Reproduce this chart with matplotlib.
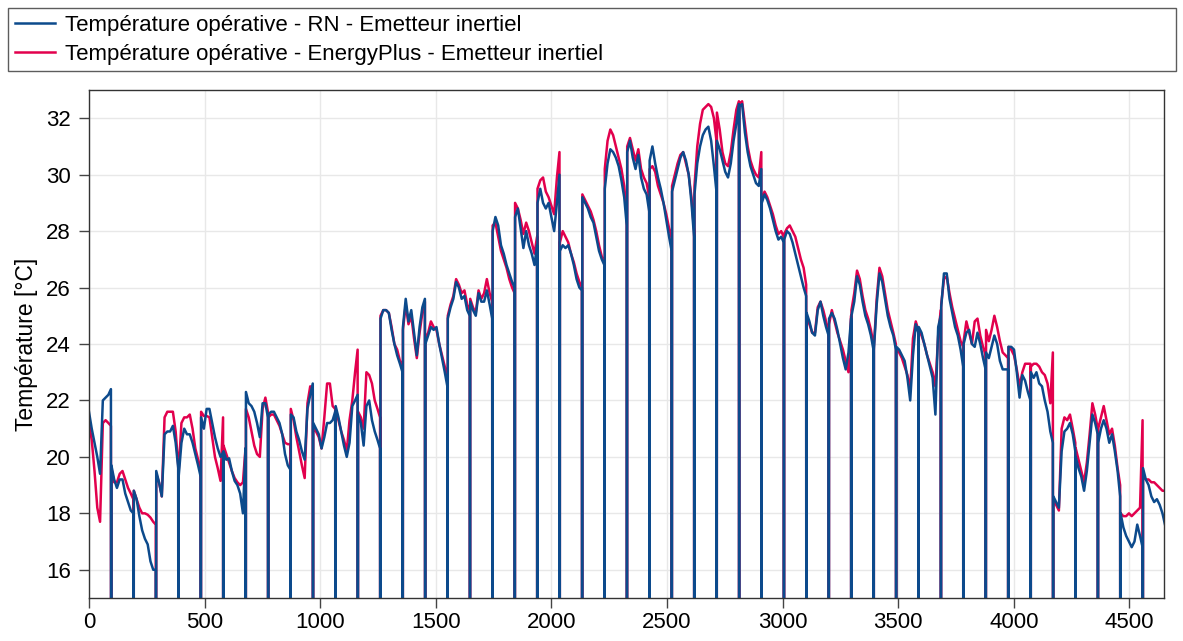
import numpy as np
import matplotlib.pyplot as plt
from matplotlib.lines import Line2D

# Operative temperature, one list per 97 h block (samples every 12 h, last at +95 h)
rn_segments = [
    [21.6, 21.0, 20.5, 20.0, 19.4, 22.0, 22.1, 22.2, 22.4],
    [19.7, 19.2, 18.9, 19.2, 19.2, 18.7, 18.4, 18.1, 18.0],
    [18.8, 18.5, 17.9, 17.4, 17.1, 16.9, 16.3, 16.0, 16.0],
    [19.5, 19.1, 18.6, 20.8, 20.9, 20.9, 21.1, 20.5, 19.6],
    [19.3, 20.5, 21.0, 20.8, 20.8, 20.5, 20.1, 19.7, 19.3],
    [21.4, 21.0, 21.7, 21.7, 21.2, 20.7, 20.3, 20.0, 20.15],
    [20.2, 19.9, 19.95, 19.5, 19.15, 19.0, 18.7, 18.0, 20.3],
    [22.3, 21.9, 21.8, 21.6, 21.2, 20.7, 21.9, 21.9, 21.4],
    [21.5, 21.6, 21.6, 21.4, 21.2, 20.8, 20.1, 19.7, 19.55],
    [21.5, 21.4, 20.9, 20.6, 20.2, 19.9, 21.7, 22.2, 22.6],
    [21.2, 21.0, 20.8, 20.3, 20.7, 21.2, 21.2, 21.3, 21.6],
    [21.8, 21.4, 20.9, 20.4, 20.0, 20.5, 21.8, 22.0, 22.2],
    [21.5, 21.2, 20.4, 21.8, 22.0, 21.3, 20.9, 20.6, 20.3],
    [24.9, 25.2, 25.2, 25.1, 24.5, 24.0, 23.6, 23.3, 23.0],
    [24.6, 25.6, 24.8, 25.2, 24.4, 23.6, 24.6, 25.3, 25.6],
    [24.0, 24.3, 24.6, 24.5, 24.6, 24.0, 23.5, 23.0, 22.5],
    [24.9, 25.3, 25.6, 26.2, 26.0, 25.6, 25.7, 25.2, 25.0],
    [25.5, 25.2, 25.0, 25.8, 25.5, 25.5, 25.9, 25.4, 24.9],
    [28.0, 28.5, 28.2, 27.5, 27.2, 26.8, 26.5, 26.2, 26.0],
    [28.5, 28.8, 28.1, 27.4, 28.0, 27.5, 27.2, 26.8, 27.5],
    [29.0, 29.5, 29.0, 28.8, 29.0, 28.5, 28.0, 29.0, 30.0],
    [27.3, 27.5, 27.4, 27.5, 27.2, 26.8, 26.3, 26.0, 25.9],
    [29.2, 29.0, 28.8, 28.5, 28.3, 27.8, 27.3, 27.0, 26.8],
    [29.5, 30.4, 30.9, 30.8, 30.6, 30.3, 29.8, 29.2, 28.2],
    [30.8, 31.2, 30.6, 30.2, 30.7, 29.9, 29.5, 29.3, 28.7],
    [30.5, 31.0, 30.4, 29.9, 29.5, 29.0, 28.4, 27.8, 27.3],
    [29.4, 29.8, 30.2, 30.6, 30.8, 30.5, 30.0, 29.0, 27.8],
    [29.3, 30.4, 31.0, 31.4, 31.6, 31.7, 31.2, 30.3, 29.4],
    [31.2, 30.9, 30.5, 30.1, 29.9, 30.4, 31.2, 31.8, 32.5],
    [32.4, 32.5, 31.5, 30.8, 30.3, 30.0, 29.7, 29.6, 30.2],
    [29.0, 29.3, 29.1, 28.8, 28.4, 28.0, 27.7, 27.8, 27.6],
    [27.7, 28.0, 27.9, 27.6, 27.2, 26.8, 26.4, 26.0, 25.7],
    [25.1, 24.8, 24.4, 24.3, 25.2, 25.5, 25.0, 24.6, 24.3],
    [24.9, 25.1, 24.9, 24.5, 24.0, 23.5, 23.1, 23.7, 24.9],
    [25.0, 25.5, 26.4, 26.1, 25.5, 25.0, 24.7, 24.3, 23.8],
    [23.8, 25.4, 26.5, 26.2, 25.6, 25.0, 24.6, 24.3, 23.8],
    [23.9, 23.8, 23.6, 23.4, 22.8, 22.0, 23.6, 24.7, 24.4],
    [24.6, 24.4, 24.0, 23.6, 23.2, 22.8, 21.5, 24.6, 25.0],
    [25.3, 26.5, 26.5, 25.6, 25.1, 24.6, 24.3, 23.8, 23.2],
    [24.0, 24.4, 24.5, 24.0, 23.9, 24.4, 24.0, 23.5, 23.1],
    [23.7, 23.5, 23.9, 24.3, 24.0, 23.4, 23.1, 23.1, 23.1],
    [23.9, 23.9, 23.8, 23.0, 22.1, 22.9, 22.7, 22.3, 22.0],
    [23.0, 22.8, 23.0, 22.6, 22.5, 22.0, 21.6, 20.9, 20.5],
    [18.6, 18.4, 18.2, 20.2, 20.9, 21.0, 21.2, 20.8, 20.2],
    [20.0, 19.6, 19.3, 18.8, 19.5, 20.5, 21.5, 21.2, 20.8],
    [20.5, 21.0, 21.3, 21.0, 20.5, 20.8, 20.2, 19.5, 18.6],
    [18.0, 17.5, 17.2, 17.0, 16.8, 17.0, 17.6, 17.2, 16.8],
    [19.6, 19.2, 19.0, 18.6, 18.4, 18.5, 18.3, 18.0, 17.6],
]

ep_segments = [
    [21.2, 20.6, 19.5, 18.2, 17.7, 21.2, 21.3, 21.2, 21.1],
    [19.6, 19.1, 19.1, 19.4, 19.5, 19.2, 18.9, 18.7, 18.5],
    [18.8, 18.5, 18.2, 18.0, 18.0, 17.95, 17.85, 17.7, 17.6],
    [19.4, 19.1, 18.6, 21.4, 21.6, 21.6, 21.6, 20.9, 19.7],
    [19.5, 21.2, 21.4, 21.4, 21.5, 21.0, 20.3, 19.9, 19.5],
    [21.6, 21.45, 21.45, 21.4, 20.7, 20.0, 19.6, 19.15, 21.4],
    [20.4, 20.1, 19.8, 19.5, 19.25, 19.1, 19.0, 19.1, 20.3],
    [21.7, 21.4, 20.9, 20.4, 20.1, 20.0, 21.7, 22.1, 21.6],
    [21.4, 21.5, 21.5, 21.3, 21.1, 20.8, 20.5, 20.45, 20.45],
    [21.7, 21.3, 20.7, 20.2, 19.7, 19.25, 21.9, 22.5, 22.4],
    [21.0, 20.9, 20.7, 20.3, 21.4, 22.6, 22.6, 21.8, 21.7],
    [21.7, 21.3, 20.9, 20.6, 20.2, 21.3, 22.0, 23.0, 23.8],
    [21.6, 21.4, 21.0, 23.0, 22.9, 22.6, 22.0, 21.7, 21.4],
    [25.0, 25.2, 25.2, 25.1, 24.6, 24.0, 23.8, 23.4, 23.3],
    [24.5, 25.4, 24.7, 25.0, 24.2, 23.5, 24.4, 25.1, 25.5],
    [24.2, 24.4, 24.8, 24.6, 24.5, 24.0, 23.6, 23.2, 22.9],
    [25.0, 25.4, 25.7, 26.3, 26.1, 25.8, 25.9, 25.4, 25.2],
    [25.6, 25.3, 25.1, 25.9, 25.6, 25.8, 26.3, 25.8, 25.5],
    [28.2, 28.3, 27.8, 27.3, 27.0, 26.7, 26.3, 26.0, 25.8],
    [29.0, 28.8, 28.4, 27.9, 28.3, 28.0, 27.6, 27.2, 27.8],
    [29.5, 29.8, 29.9, 29.4, 29.2, 28.9, 28.6, 29.9, 30.8],
    [27.6, 28.0, 27.8, 27.6, 27.2, 26.9, 26.5, 26.2, 26.0],
    [29.3, 29.1, 28.9, 28.7, 28.4, 28.0, 27.5, 27.1, 26.9],
    [30.2, 31.2, 31.6, 31.4, 31.0, 30.6, 30.2, 29.6, 28.5],
    [31.0, 31.3, 30.9, 30.5, 30.9, 30.2, 29.9, 29.7, 29.2],
    [30.2, 30.3, 30.1, 29.6, 29.3, 29.0, 28.6, 28.1, 27.8],
    [29.6, 30.0, 30.4, 30.7, 30.8, 30.4, 30.0, 29.2, 28.0],
    [29.6, 31.0, 31.8, 32.3, 32.4, 32.5, 32.4, 32.0, 31.2],
    [32.2, 31.6, 30.8, 30.4, 30.3, 30.8, 31.6, 32.3, 32.6],
    [32.5, 32.6, 31.8, 31.0, 30.5, 30.2, 30.0, 29.9, 30.8],
    [29.1, 29.4, 29.2, 28.9, 28.6, 28.2, 27.9, 28.0, 27.8],
    [27.9, 28.1, 28.2, 28.0, 27.8, 27.4, 27.0, 26.7, 26.1],
    [25.0, 24.7, 24.4, 24.4, 25.3, 25.5, 25.2, 24.8, 24.4],
    [24.7, 25.2, 24.8, 24.4, 24.1, 23.8, 23.4, 23.0, 25.0],
    [25.2, 25.8, 26.6, 26.3, 25.7, 25.2, 24.9, 24.5, 24.0],
    [23.9, 25.6, 26.7, 26.4, 25.8, 25.2, 24.8, 24.4, 24.0],
    [23.8, 23.7, 23.5, 23.2, 22.9, 22.4, 24.2, 24.8, 24.5],
    [24.5, 24.3, 24.0, 23.6, 23.3, 23.0, 22.5, 24.3, 25.2],
    [25.4, 26.3, 26.4, 25.8, 25.3, 24.9, 24.5, 24.1, 23.9],
    [24.1, 24.8, 24.4, 24.0, 24.8, 24.9, 24.3, 23.9, 23.6],
    [24.5, 24.1, 24.5, 25.0, 24.6, 24.1, 23.7, 23.6, 23.5],
    [23.9, 23.8, 23.6, 23.1, 22.5, 23.0, 23.3, 23.3, 23.3],
    [23.2, 23.3, 23.3, 23.2, 23.0, 22.9, 22.6, 21.9, 23.7],
    [18.5, 18.3, 18.1, 21.0, 21.4, 21.3, 21.5, 21.0, 20.5],
    [20.3, 19.9, 19.5, 19.1, 19.8, 20.8, 21.9, 21.5, 21.0],
    [21.0, 21.4, 21.8, 21.3, 20.8, 21.0, 20.4, 19.6, 19.0],
    [18.0, 17.9, 17.9, 18.0, 17.9, 18.0, 18.1, 18.2, 21.3],
    [19.3, 19.2, 19.2, 19.1, 19.1, 19.0, 18.9, 18.8, 18.8],
]

block_len = 97
sample_hours = [0, 12, 24, 36, 48, 60, 72, 84, 95]
xticks = [0, 500, 1000, 1500, 2000, 2500, 3000, 3500, 4000, 4500]
yticks = [16, 18, 20, 22, 24, 26, 28, 30, 32]


def build_series(segments):
    # each block is closed by a zero sample, which shows up as a vertical drop
    xs, ys = [], []
    for k, seg in enumerate(segments):
        start = k * block_len
        xs += [start + h for h in sample_hours]
        ys += seg
        if k < len(segments) - 1:
            xs.append(start + block_len - 1)
            ys.append(0.0)
    return np.array(xs), np.array(ys)


x_rn, y_rn = build_series(rn_segments)
x_ep, y_ep = build_series(ep_segments)

plt.rcParams['font.family'] = ['Liberation Sans', 'DejaVu Sans']
fig = plt.figure(figsize=(11.83, 6.41), dpi=100)
ax = fig.add_axes([0.0752, 0.0671, 0.9088, 0.7925])

c_rn = '#0c4a8c'
c_ep = '#e2004d'
ax.plot(x_ep, y_ep, color=c_ep, lw=1.8)
ax.plot(x_rn, y_rn, color=c_rn, lw=1.8)

ax.set_xlim(0, 4650)
ax.set_ylim(15, 33)
ax.set_xticks(xticks)
ax.set_yticks(yticks)
ax.grid(True, color='#e8e8e8', lw=1.0)
ax.set_axisbelow(True)
ax.tick_params(axis='both', labelsize=16, direction='out', length=7,
               color='#444444', width=1.0)
ax.tick_params(axis='y', pad=6)
ax.tick_params(axis='x', pad=3)
for s in ax.spines.values():
    s.set_color('#333333')
    s.set_linewidth(1.0)
ax.set_ylabel('Température [°C]', fontsize=16.5, labelpad=6)

handles = [Line2D([], [], color=c_rn, lw=1.8),
           Line2D([], [], color=c_ep, lw=1.8)]
labels = ['Température opérative - RN - Emetteur inertiel',
          'Température opérative - EnergyPlus - Emetteur inertiel']
leg = fig.legend(handles, labels, loc='upper left',
                 bbox_to_anchor=(0.0068, 0.0, 0.9873, 0.9875),
                 mode='expand', fontsize=16, frameon=True, fancybox=False,
                 handlelength=1.8, handletextpad=0.45, labelspacing=0.36,
                 borderpad=0.3, borderaxespad=0.0)
leg.get_frame().set_edgecolor('#333333')
leg.get_frame().set_linewidth(1.0)

fig.savefig('out.png', dpi=100)
